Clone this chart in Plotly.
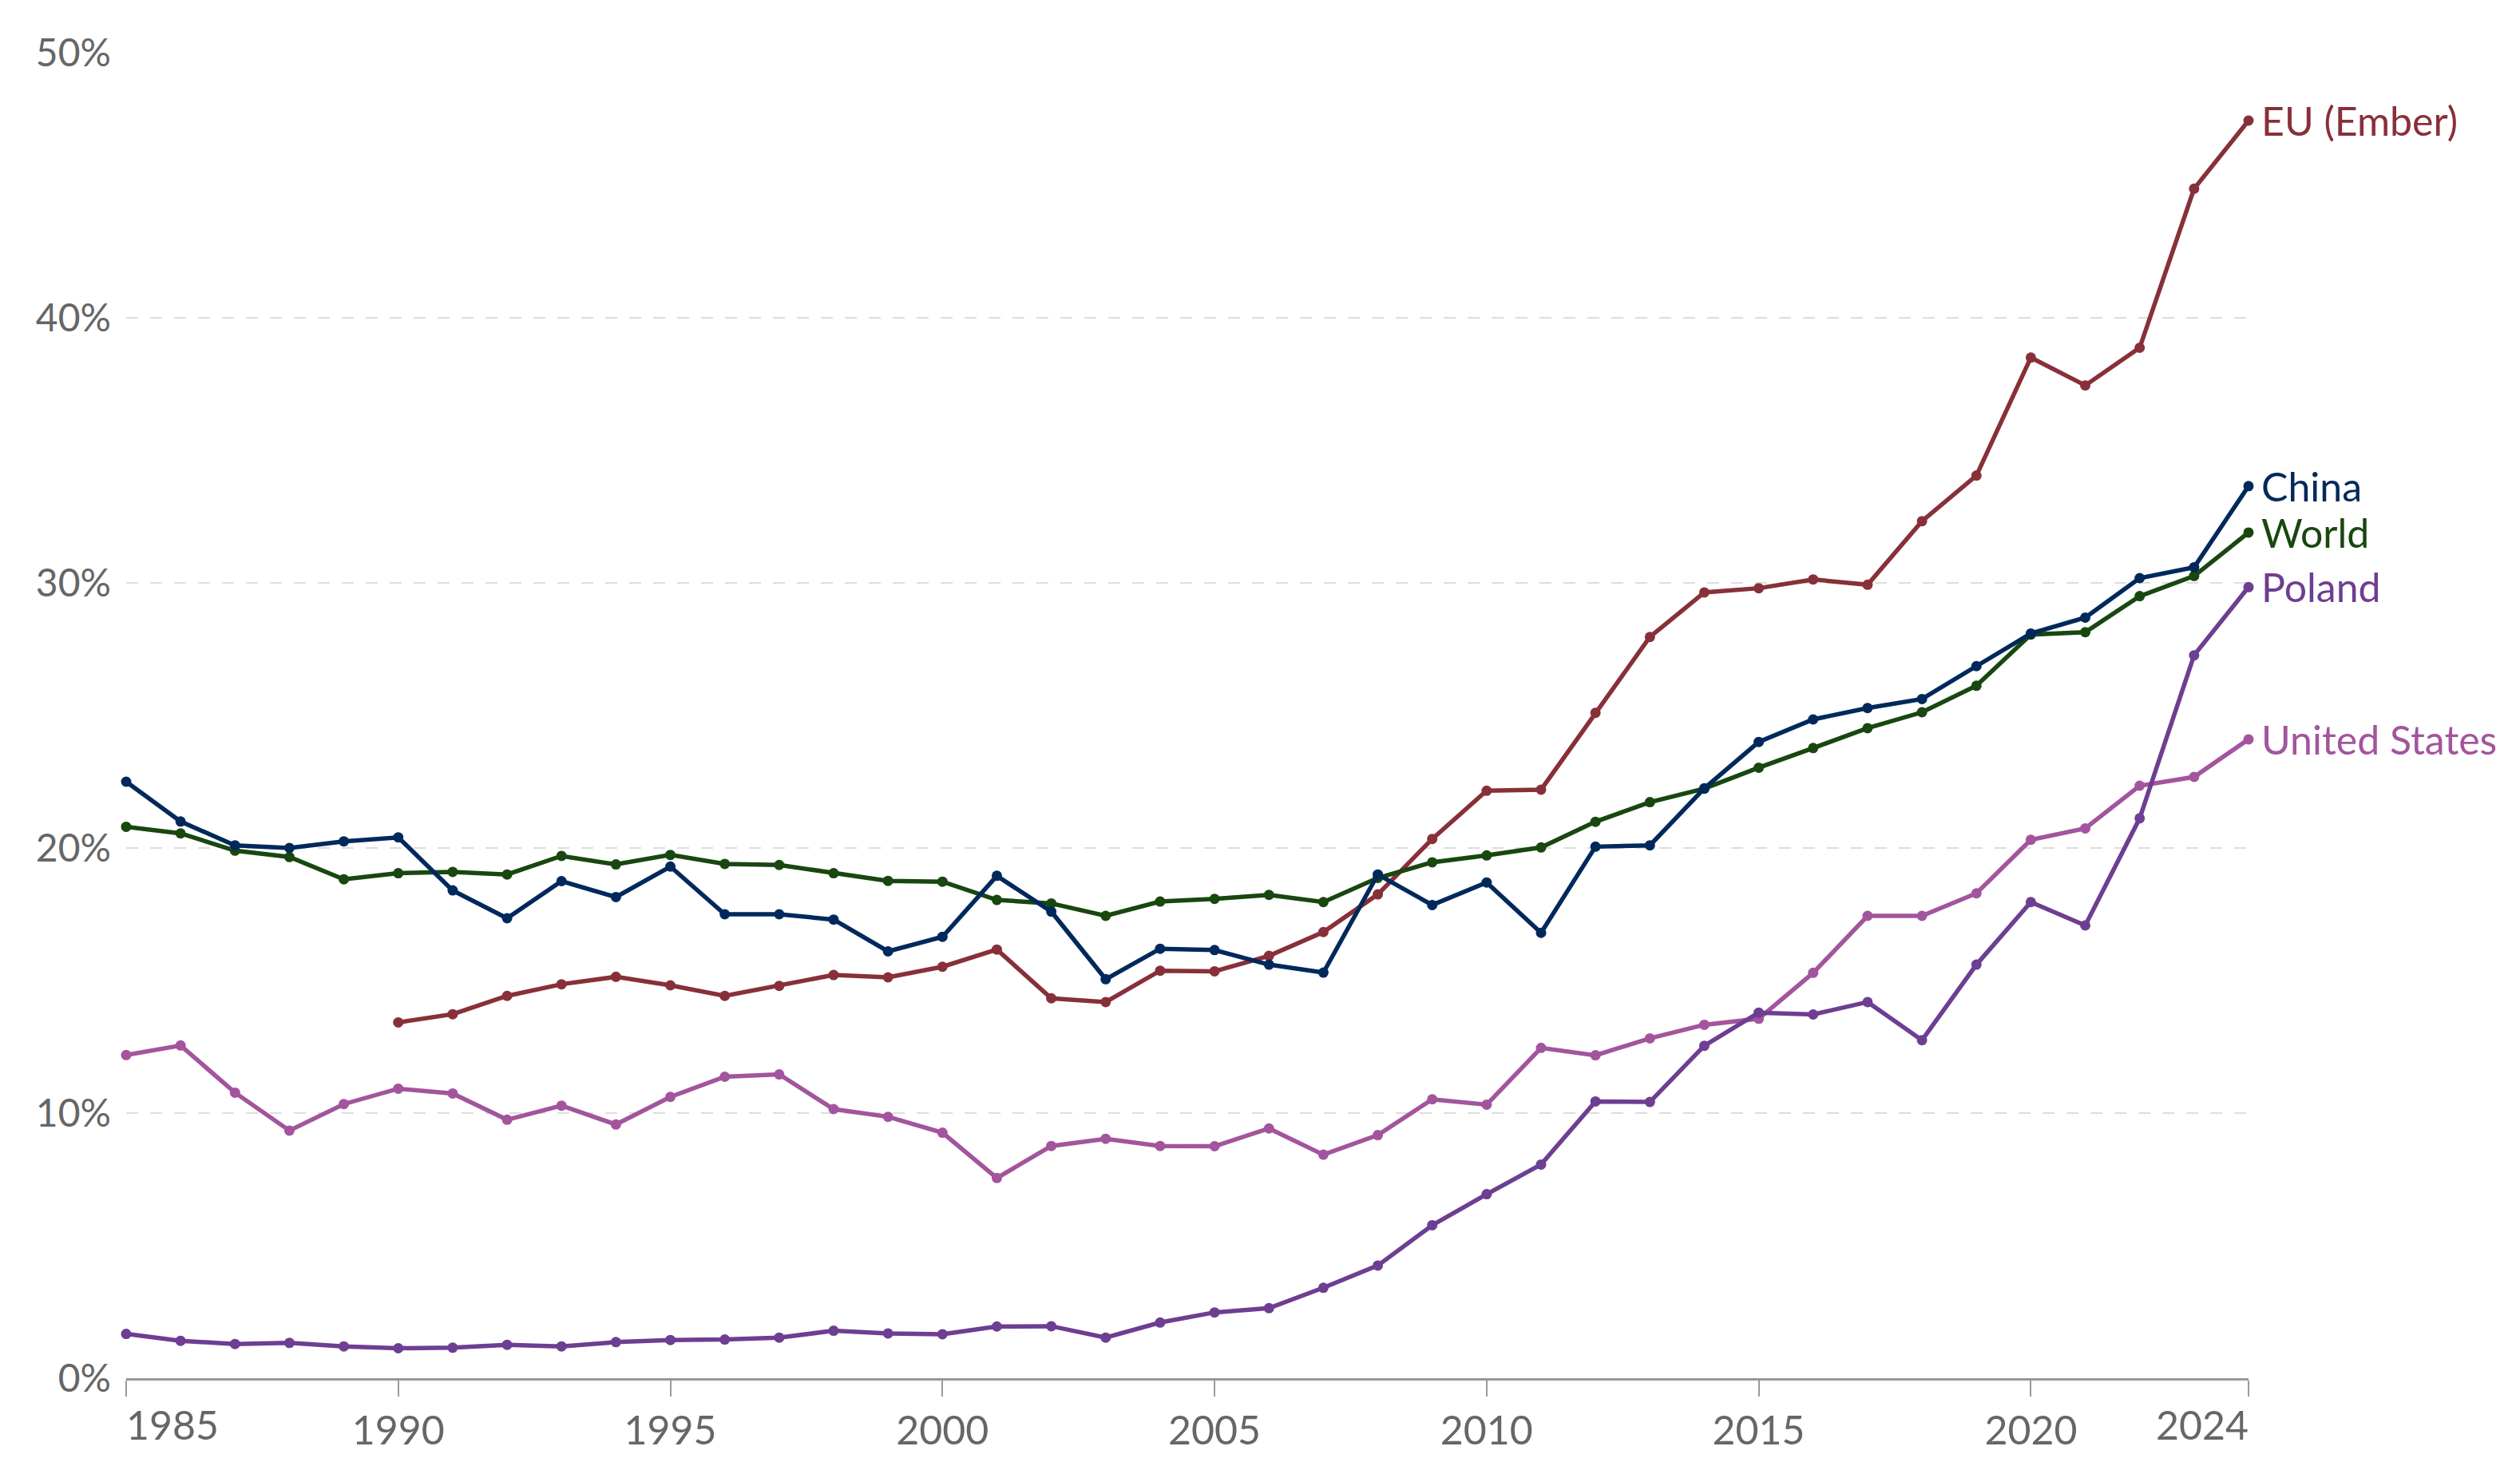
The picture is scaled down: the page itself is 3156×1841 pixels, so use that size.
import plotly.graph_objects as go

years = list(range(1985, 2025))

china = [22.5, 21.0, 20.1, 20.0, 20.25, 20.4, 18.4, 17.35, 18.75, 18.15,
         19.3, 17.5, 17.5, 17.3, 16.1, 16.65, 18.95, 17.6, 15.05, 16.2,
         16.15, 15.6, 15.3, 19.0, 17.85, 18.7, 16.8, 20.05, 20.1, 22.25,
         24.0, 24.85, 25.28, 25.62, 26.86, 28.09, 28.69, 30.18, 30.59, 33.65]

world = [20.8, 20.55, 19.9, 19.66, 18.82, 19.05, 19.1, 19.0, 19.7, 19.38,
         19.74, 19.4, 19.36, 19.05, 18.76, 18.73, 18.04, 17.91, 17.44, 17.98,
         18.08, 18.23, 17.96, 18.87, 19.46, 19.72, 20.02, 20.99, 21.73, 22.24,
         23.03, 23.77, 24.52, 25.12, 26.12, 28.05, 28.14, 29.5, 30.26, 31.9]

eu = [None, None, None, None, None, 13.42, 13.73, 14.42, 14.86, 15.14,
      14.82, 14.42, 14.8, 15.21, 15.12, 15.52, 16.17, 14.33, 14.19, 15.37,
      15.35, 15.93, 16.83, 18.25, 20.34, 22.16, 22.2, 25.1, 27.96, 29.64,
      29.8, 30.13, 29.93, 32.33, 34.05, 38.5, 37.45, 38.87, 44.87, 47.44]

poland = [1.67, 1.41, 1.29, 1.33, 1.2, 1.13, 1.15, 1.26, 1.2, 1.36,
          1.44, 1.46, 1.53, 1.79, 1.69, 1.66, 1.95, 1.96, 1.53, 2.1,
          2.48, 2.64, 3.41, 4.25, 5.77, 6.94, 8.06, 10.44, 10.42, 12.54,
          13.79, 13.72, 14.19, 12.75, 15.6, 17.96, 17.08, 21.12, 27.27, 29.84]

usa = [12.19, 12.55, 10.77, 9.34, 10.34, 10.92, 10.74, 9.75, 10.28, 9.57,
       10.61, 11.37, 11.46, 10.15, 9.86, 9.26, 7.55, 8.76, 9.03, 8.76,
       8.75, 9.42, 8.43, 9.17, 10.52, 10.32, 12.46, 12.18, 12.82, 13.33,
       13.56, 15.29, 17.44, 17.44, 18.29, 20.31, 20.74, 22.35, 22.68, 24.1]

series_names = ["United States", "Poland", "EU (Ember)", "World", "China"]
series_values = [usa, poland, eu, world, china]
series_colors = ["#A2559C", "#6D3E91", "#883039", "#18470F", "#00295B"]

x_tick_vals = [1985, 1990, 1995, 2000, 2005, 2010, 2015, 2020, 2024]
y_tick_vals = [0, 10, 20, 30, 40, 50]
y_tick_text = [f"{v}%" for v in y_tick_vals]

FONT = "Lato, 'Noto Sans', sans-serif"

fig = go.Figure()
for name, vals, col in zip(series_names, series_values, series_colors):
    fig.add_trace(go.Scatter(
        x=years, y=vals, name=name, mode="lines+markers",
        line=dict(color=col, width=5.5),
        marker=dict(color=col, size=13),
        connectgaps=False, showlegend=False, cliponaxis=False,
    ))
    last = [v for v in vals if v is not None][-1]
    fig.add_annotation(
        x=years[-1], y=last, text=name, showarrow=False,
        xanchor="left", yanchor="middle", xshift=14,
        font=dict(family=FONT, size=50, color=col),
    )

fig.add_annotation(x=x_tick_vals[0], y=0, yref="y", text=str(x_tick_vals[0]),
                   showarrow=False, xanchor="left", yanchor="top", yshift=-26,
                   xshift=-2, font=dict(family=FONT, size=50, color="#666666"))
fig.add_annotation(x=x_tick_vals[-1], y=0, yref="y", text=str(x_tick_vals[-1]),
                   showarrow=False, xanchor="right", yanchor="top", yshift=-26,
                   xshift=2, font=dict(family=FONT, size=50, color="#666666"))

fig.update_layout(
    width=3156, height=1841,
    margin=dict(l=158, r=340, t=66, b=115),
    paper_bgcolor="white", plot_bgcolor="white",
    font=dict(family=FONT, color="#666666"),
)
fig.update_xaxes(
    range=[1985, 2024],
    tickvals=x_tick_vals,
    ticktext=["" if v in (x_tick_vals[0], x_tick_vals[-1]) else str(v) for v in x_tick_vals],
    ticks="outside", ticklen=20, tickwidth=2, tickcolor="#999999",
    showline=True, linecolor="#999999", linewidth=3,
    showgrid=False, zeroline=False,
    tickfont=dict(family=FONT, size=50, color="#666666"),
)
fig.update_yaxes(
    range=[0, 50],
    tickvals=y_tick_vals, ticktext=y_tick_text,
    showgrid=True, gridcolor="#dddddd", gridwidth=2, griddash="15px,15px",
    zeroline=False, showline=False, ticks="",
    ticklabelstandoff=18,
    tickfont=dict(family=FONT, size=48, color="#666666"),
)

fig.write_html("out.html", config={"displayModeBar": False},
               post_script="document.body.style.margin='0';document.body.style.overflow='hidden';")
